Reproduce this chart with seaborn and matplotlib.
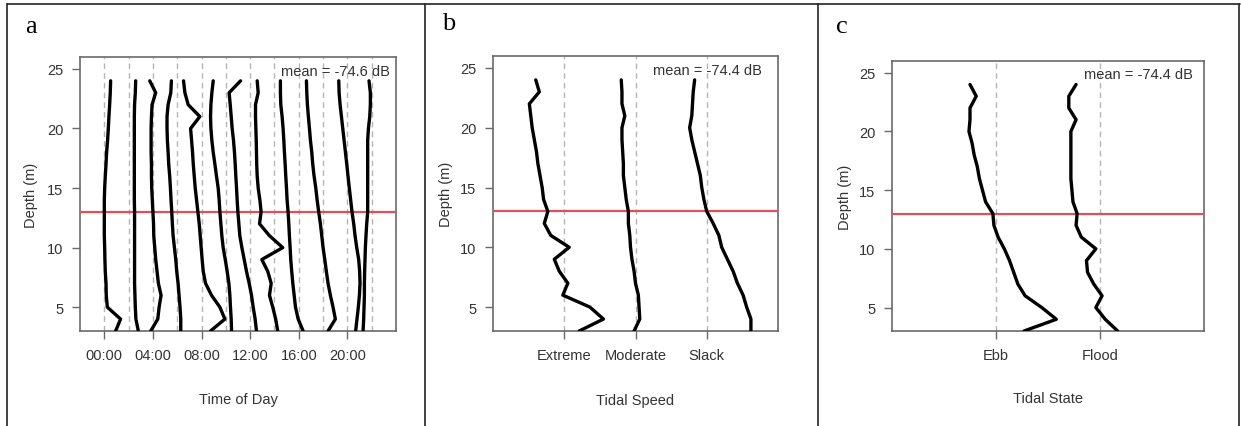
import numpy as np
import pandas as pd
import matplotlib
matplotlib.use("Agg")
import matplotlib.pyplot as plt
from matplotlib.lines import Line2D
import seaborn as sns

# ---------------- data ----------------
depths = [24, 23, 22, 21, 20, 19, 18, 17, 16, 15, 14, 13, 12, 11, 10, 9, 8, 7, 6, 5, 4, 3]

# panel a: time of day (hours) and horizontal offsets of each profile from its hour line
hours = [0, 2, 4, 6, 8, 10, 12, 14, 16, 18, 20, 22]
hour_ticks = [0, 4, 8, 12, 16, 20]
hour_labels = ["00:00", "04:00", "08:00", "12:00", "16:00", "20:00"]
off_00 = [0.52, 0.49, 0.44, 0.38, 0.33, 0.27, 0.19, 0.14, 0.08, 0.03, 0.00, 0.00, 0.00, 0.00, 0.03, 0.05, 0.08, 0.14, 0.16, 0.25, 1.34, 0.93]
off_02 = [0.58, 0.55, 0.49, 0.47, 0.47, 0.47, 0.47, 0.47, 0.47, 0.47, 0.47, 0.49, 0.49, 0.49, 0.49, 0.49, 0.49, 0.49, 0.52, 0.55, 0.60, 0.80]
off_04 = [-0.26, 0.23, -0.07, -0.12, -0.15, -0.15, -0.15, -0.12, -0.12, -0.10, -0.05, 0.00, 0.05, 0.07, 0.15, 0.23, 0.34, 0.45, 0.67, 0.51, 0.40, -0.18]
off_06 = [-0.48, -0.53, -0.75, -0.84, -0.84, -0.81, -0.75, -0.70, -0.62, -0.56, -0.51, -0.45, -0.40, -0.34, -0.23, -0.12, -0.04, 0.07, 0.15, 0.23, 0.29, 0.29]
off_08 = [-1.48, -1.37, -1.10, -0.14, -0.90, -0.82, -0.74, -0.68, -0.60, -0.52, -0.41, -0.30, -0.19, -0.11, -0.03, 0.05, 0.14, 0.33, 0.82, 1.51, 1.92, 0.74]
off_10 = [-1.04, -1.15, -1.23, -1.26, -1.23, -1.15, -1.04, -0.90, -0.77, -0.63, -0.55, -0.49, -0.41, -0.33, -0.22, -0.05, 0.11, 0.25, 0.33, 0.38, 0.44, 0.47]
off_12 = [-0.79, -1.73, -1.64, -1.56, -1.48, -1.37, -1.29, -1.23, -1.18, -1.12, -1.07, -1.01, -0.93, -0.85, -0.68, -0.49, -0.30, -0.08, 0.11, 0.25, 0.41, 0.52]
off_14 = [-1.42, -1.34, -1.56, -1.56, -1.53, -1.50, -1.48, -1.46, -1.42, -1.34, -1.20, -1.10, -1.23, -0.41, 0.68, -1.04, -0.55, -0.27, -0.41, -0.14, 0.10, 0.27]
off_16 = [-1.51, -1.51, -1.48, -1.37, -1.29, -1.23, -1.18, -1.12, -1.07, -1.01, -0.96, -0.88, -0.82, -0.77, -0.71, -0.66, -0.58, -0.49, -0.38, -0.27, -0.05, 0.36]
off_18 = [-1.37, -1.34, -1.29, -1.21, -1.12, -1.04, -0.93, -0.85, -0.74, -0.60, -0.49, -0.36, -0.22, -0.11, 0.00, 0.14, 0.27, 0.41, 0.60, 0.82, 1.01, 0.41]
off_20 = [-0.71, -0.68, -0.60, -0.49, -0.38, -0.27, -0.16, -0.05, 0.05, 0.16, 0.27, 0.38, 0.52, 0.63, 0.77, 0.93, 1.01, 1.04, 0.99, 0.90, 0.79, 0.68]
off_22 = [-0.22, -0.11, -0.11, -0.16, -0.27, -0.33, -0.33, -0.33, -0.33, -0.33, -0.33, -0.33, -0.41, -0.47, -0.52, -0.55, -0.58, -0.60, -0.60, -0.63, -0.66, -0.71]
offsets_a = [off_00, off_02, off_04, off_06, off_08, off_10, off_12, off_14, off_16, off_18, off_20, off_22]

# panel b: tidal speed
speed_cats = ["Extreme", "Moderate", "Slack"]
off_extreme = [-0.40, -0.35, -0.49, -0.47, -0.45, -0.42, -0.39, -0.37, -0.34, -0.31, -0.29, -0.23, -0.28, -0.19, 0.07, -0.14, -0.07, 0.05, -0.02, 0.36, 0.55, 0.21]
off_moderate = [-0.20, -0.19, -0.19, -0.15, -0.19, -0.19, -0.18, -0.17, -0.17, -0.15, -0.13, -0.10, -0.10, -0.08, -0.07, -0.05, -0.02, 0.00, 0.04, 0.05, 0.06, -0.02]
off_slack = [-0.17, -0.19, -0.20, -0.21, -0.24, -0.21, -0.17, -0.13, -0.09, -0.07, -0.04, 0.00, 0.09, 0.17, 0.21, 0.29, 0.37, 0.43, 0.51, 0.56, 0.62, 0.62]
offsets_b = [off_extreme, off_moderate, off_slack]

# panel c: tidal state
state_cats = ["Ebb", "Flood"]
off_ebb = [-0.25, -0.19, -0.25, -0.25, -0.26, -0.23, -0.21, -0.18, -0.16, -0.13, -0.10, -0.03, -0.02, 0.02, 0.08, 0.13, 0.17, 0.21, 0.28, 0.44, 0.58, 0.27]
off_flood = [-0.23, -0.30, -0.30, -0.23, -0.28, -0.28, -0.28, -0.28, -0.28, -0.27, -0.26, -0.22, -0.23, -0.18, -0.04, -0.13, -0.12, -0.06, 0.02, -0.04, 0.05, 0.17]
offsets_c = [off_ebb, off_flood]

mean_texts = ["mean = -74.6 dB", "mean = -74.4 dB", "mean = -74.4 dB"]
ref_depth = 13
ytick_vals = [5, 10, 15, 20, 25]

# ---------------- style ----------------
sns.set_style("white")
plt.rcParams["font.family"] = ["Liberation Sans Narrow", "Liberation Sans", "DejaVu Sans"]

W, H = 1241, 427
fig = plt.figure(figsize=(W / 100, H / 100), dpi=100)

def px_axes(x0, y0, x1, y1):
    return fig.add_axes([x0 / W, 1 - y1 / H, (x1 - x0) / W, (y1 - y0) / H])

ax_a = px_axes(80, 58, 396, 332)
ax_b = px_axes(493, 57, 778, 332)
ax_c = px_axes(892, 62, 1204, 332)

frame_col = "#6a6a6a"
text_col = "#333333"
dash_col = "#b5b5b5"
red_col = "#e0505c"


def profiles_df(centers, offsets):
    rows = []
    for i, (c, off) in enumerate(zip(centers, offsets)):
        for d, o in zip(depths, off):
            rows.append({"profile": i, "depth": d, "x": c + o})
    return pd.DataFrame(rows)


def style_axes(ax, xlabel, mean_txt, text_x):
    ax.set_ylim(3, 26)
    ax.set_yticks(ytick_vals)
    for s in ax.spines.values():
        s.set_color(frame_col)
        s.set_linewidth(1.2)
    ax.tick_params(axis="both", direction="out", length=6, width=1, color=frame_col,
                   labelsize=10.5, labelcolor=text_col, pad=6, left=True, bottom=True)
    ax.axhline(ref_depth, color=red_col, lw=1.6, zorder=3)
    ax.set_xlabel(xlabel, fontsize=10.5, color=text_col, va="center")
    ax.set_ylabel("Depth (m)", fontsize=10.5, color=text_col, va="center")
    ax.xaxis.set_label_coords(0.5, -0.25)
    ax.yaxis.set_label_coords(-0.165, 0.5)
    ax.text(text_x, 0.95, mean_txt, transform=ax.transAxes, ha="right", va="center",
            fontsize=10.5, color=text_col)


# panel a
df_a = profiles_df(hours, offsets_a)
for h in hours:
    ax_a.axvline(h, color=dash_col, lw=1, ls=(0, (4, 3)), zorder=1)
sns.lineplot(data=df_a, x="x", y="depth", units="profile", estimator=None, orient="y",
             sort=False, color="black", lw=2.4, ax=ax_a, zorder=4)
ax_a.set_xlim(-2, 24)
ax_a.set_xticks(hour_ticks)
ax_a.set_xticklabels(hour_labels)
style_axes(ax_a, "Time of Day", mean_texts[0], 0.98)
ax_a.yaxis.set_label_coords(-0.155, 0.5)

# panel b
pos_b = list(range(1, len(speed_cats) + 1))
df_b = profiles_df(pos_b, offsets_b)
for p in pos_b:
    ax_b.axvline(p, color=dash_col, lw=1, ls=(0, (4, 3)), zorder=1)
sns.lineplot(data=df_b, x="x", y="depth", units="profile", estimator=None, orient="y",
             sort=False, color="black", lw=2.4, ax=ax_b, zorder=4)
ax_b.set_xlim(0, 4)
ax_b.set_xticks(pos_b)
ax_b.set_xticklabels(speed_cats)
style_axes(ax_b, "Tidal Speed", mean_texts[1], 0.945)

# panel c
pos_c = list(range(1, len(state_cats) + 1))
df_c = profiles_df(pos_c, offsets_c)
for p in pos_c:
    ax_c.axvline(p, color=dash_col, lw=1, ls=(0, (4, 3)), zorder=1)
sns.lineplot(data=df_c, x="x", y="depth", units="profile", estimator=None, orient="y",
             sort=False, color="black", lw=2.4, ax=ax_c, zorder=4)
ax_c.set_xlim(0, 3)
ax_c.set_xticks(pos_c)
ax_c.set_xticklabels(state_cats)
style_axes(ax_c, "Tidal State", mean_texts[2], 0.965)
ax_c.yaxis.set_label_coords(-0.15, 0.5)

for ax in (ax_a, ax_b, ax_c):
    leg = ax.get_legend()
    if leg is not None:
        leg.remove()

# panel letters
for lx, ly, letter in [(25, 27, "a"), (442, 24, "b"), (836, 27, "c")]:
    fig.text(lx / W, 1 - ly / H, letter, fontsize=19, family=["Liberation Serif", "DejaVu Serif"],
             ha="left", va="center", color="black")

# outer table borders
def fline(x0, y0, x1, y1):
    fig.add_artist(Line2D([x0 / W, x1 / W], [1 - y0 / H, 1 - y1 / H], color="#222222", lw=1.2,
                          transform=fig.transFigure))

fline(7, 5, 1240, 5)
for xv in (7, 425, 818, 1239):
    fline(xv, 5, xv, 427)

fig.savefig("out.png", dpi=100)
